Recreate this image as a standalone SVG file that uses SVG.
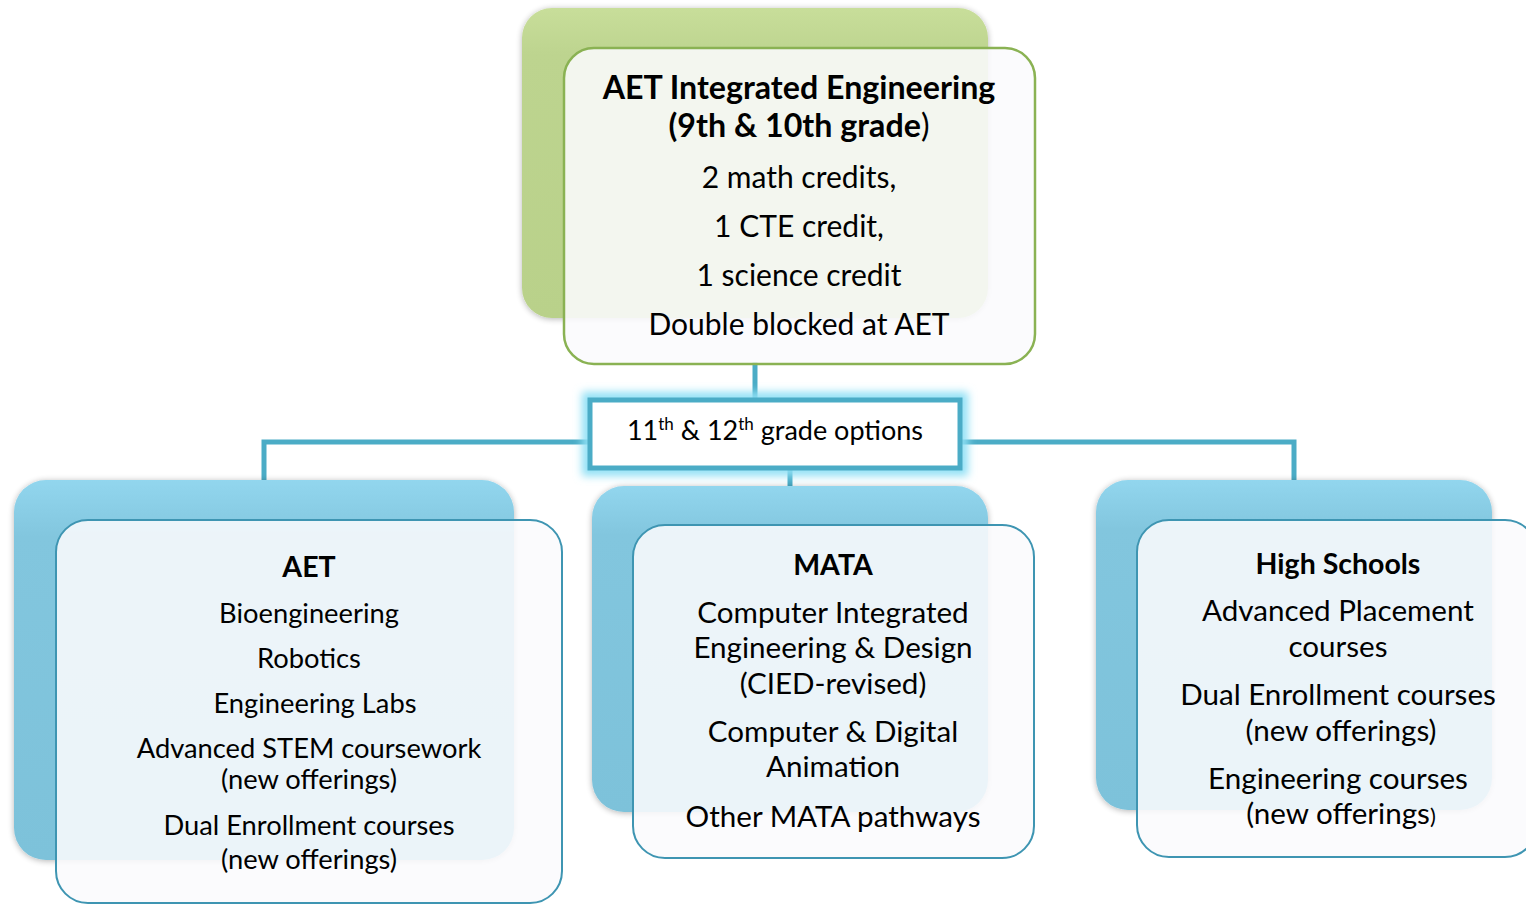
<svg xmlns="http://www.w3.org/2000/svg" width="1526" height="904" viewBox="0 0 1526 904">
<defs>
<linearGradient id="gBlue" x1="0" y1="0" x2="0" y2="1">
<stop offset="0" stop-color="#92D6EE"/>
<stop offset="0.15" stop-color="#82C6DE"/>
<stop offset="1" stop-color="#7DC2DA"/>
</linearGradient>
<linearGradient id="gGreen" x1="0" y1="0" x2="0" y2="1">
<stop offset="0" stop-color="#C8DE9A"/>
<stop offset="0.15" stop-color="#BDD48F"/>
<stop offset="1" stop-color="#B9D18A"/>
</linearGradient>
<filter id="soft" x="-10%" y="-10%" width="120%" height="120%">
<feGaussianBlur in="SourceAlpha" stdDeviation="3"/>
<feOffset dx="0" dy="1"/>
<feComponentTransfer><feFuncA type="linear" slope="0.3"/></feComponentTransfer>
<feMerge><feMergeNode/><feMergeNode in="SourceGraphic"/></feMerge>
</filter>
<filter id="glow" x="-10%" y="-30%" width="120%" height="160%">
<feGaussianBlur stdDeviation="4"/>
</filter>
</defs>
<style>
.t{font-family:Lato,"Open Sans","Liberation Sans",sans-serif;font-size:29.6px;fill:#000;text-anchor:middle}
.a{font-size:27.3px}
.p{font-size:30px}
.b{font-weight:bold;font-size:28.5px}
.hb{font-weight:bold;font-size:32.2px}
.c{font-size:27px}
.sup{font-size:17px}
.conn{stroke:#4BACC6;stroke-width:5;fill:none}
.backB{fill:url(#gBlue)}
.backG{fill:url(#gGreen)}
.frontB{fill:#FBFAFD;fill-opacity:0.88;stroke:#3E95B2;stroke-width:2}
.frontG{fill:#FBFAFD;fill-opacity:0.88;stroke:#8AB253;stroke-width:2.5}
</style>

<g id="connectors">
<path class="conn" d="M755 362 V400"/>
<path class="conn" d="M264 482 V442 H590"/>
<path class="conn" d="M960 442 H1294 V482"/>
<path class="conn" d="M790 468 V488"/>
</g>

<g id="node-top">
<rect class="backG" x="522" y="8" width="466" height="310" rx="30" filter="url(#soft)"/>
<rect class="frontG" x="564" y="48" width="471" height="316" rx="30"/>
<text class="t hb" x="799" y="99">AET Integrated Engineering</text>
<text class="t hb" x="799" y="137">(9th &amp; 10th grade<tspan font-weight="normal">)</tspan></text>
<text class="t p" x="799" y="188">2 math credits,</text>
<text class="t p" x="799" y="237">1 CTE credit,</text>
<text class="t p" x="799" y="286">1 science credit</text>
<text class="t p" x="799" y="335">Double blocked at AET</text>
</g>

<g id="node-options">
<rect x="588" y="398" width="374" height="72" fill="none" stroke="#8FE0F5" stroke-width="12" filter="url(#glow)"/>
<rect x="590" y="400" width="370" height="68" fill="#FFFFFF" stroke="#4BACC6" stroke-width="5"/>
<text class="t c" x="775" y="440">11<tspan class="sup" dy="-10">th</tspan><tspan dy="10"> &amp; 12</tspan><tspan class="sup" dy="-10">th</tspan><tspan dy="10"> grade options</tspan></text>
</g>

<g id="node-aet">
<rect class="backB" x="14" y="480" width="500" height="380" rx="32" filter="url(#soft)"/>
<rect class="frontB" x="56" y="520" width="506" height="383" rx="32"/>
<text class="t b" x="309" y="577">AET</text>
<text class="t a" x="309" y="623">Bioengineering</text>
<text class="t a" x="309" y="668">Robotics</text>
<text class="t a" x="315" y="713">Engineering Labs</text>
<text class="t a" x="309" y="758">Advanced STEM coursework</text>
<text class="t a" x="309" y="789">(new offerings)</text>
<text class="t a" x="309" y="835">Dual Enrollment courses</text>
<text class="t a" x="309" y="869">(new offerings)</text>
</g>

<g id="node-mata">
<rect class="backB" x="592" y="486" width="396" height="326" rx="32" filter="url(#soft)"/>
<rect class="frontB" x="633" y="525" width="401" height="333" rx="32"/>
<text class="t b" x="833" y="575">MATA</text>
<text class="t" x="833" y="623">Computer Integrated</text>
<text class="t" x="833" y="658">Engineering &amp; Design</text>
<text class="t" x="833" y="694">(CIED-revised)</text>
<text class="t" x="833" y="742">Computer &amp; Digital</text>
<text class="t" x="833" y="777">Animation</text>
<text class="t" x="833" y="827">Other MATA pathways</text>
</g>

<g id="node-hs">
<rect class="backB" x="1096" y="480" width="396" height="330" rx="32" filter="url(#soft)"/>
<rect class="frontB" x="1137" y="520" width="400" height="337" rx="32"/>
<text class="t b" x="1338" y="574">High Schools</text>
<text class="t" x="1338" y="621">Advanced Placement</text>
<text class="t" x="1338" y="657">courses</text>
<text class="t" x="1338" y="705">Dual Enrollment courses</text>
<text class="t" x="1341" y="741">(new offerings)</text>
<text class="t" x="1338" y="789">Engineering courses</text>
<text class="t" x="1341" y="824">(new offerings<tspan font-size="22">)</tspan></text>
</g>
</svg>
